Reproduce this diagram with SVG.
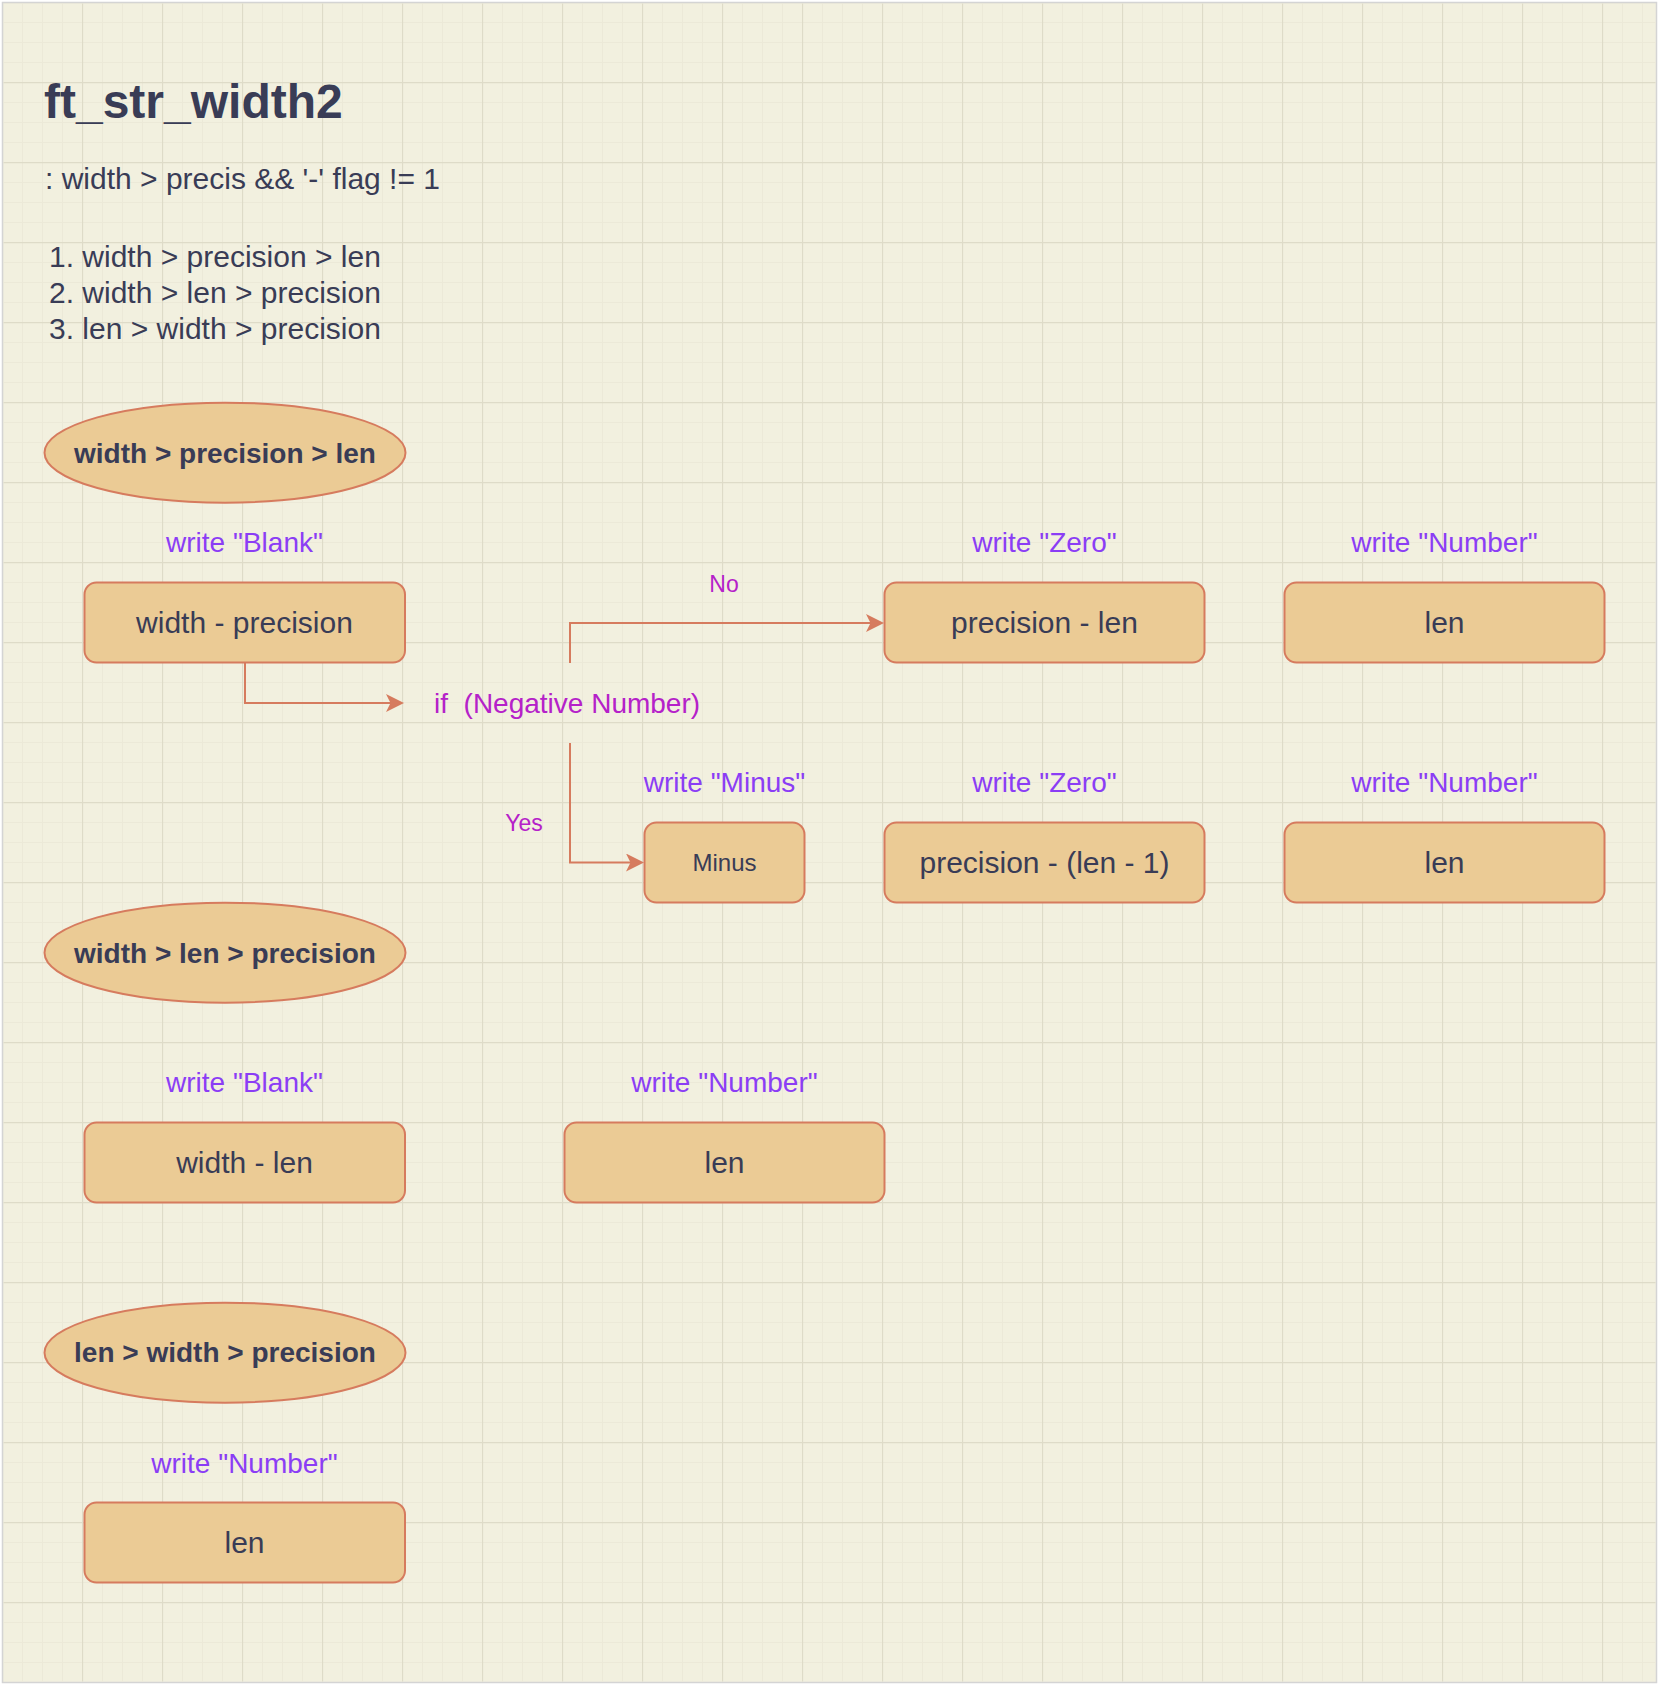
<svg xmlns="http://www.w3.org/2000/svg" width="1660" height="1684" viewBox="0 0 1660 1684">
  <defs>
    <pattern id="grid" x="2" y="2" width="80" height="80" patternUnits="userSpaceOnUse">
      <path d="M20.5 0V80M40.5 0V80M60.5 0V80M0 20.5H80M0 40.5H80M0 60.5H80" stroke="#ECE9D8" stroke-width="1" fill="none"/>
      <path d="M0.5 0V80M0 0.5H80" stroke="#DEDBC8" stroke-width="1.3" fill="none"/>
    </pattern>
    <marker id="arr" markerUnits="userSpaceOnUse" viewBox="0 0 18 18" markerWidth="18" markerHeight="18" refX="14" refY="9" orient="auto">
      <path d="M0,0 L18,9 L0,18 L4.5,9 Z" fill="#D67B5E"/>
    </marker>
    <style>
      text { font-family: "Liberation Sans", Arial, Helvetica, sans-serif; }
      .box { fill: #EBCB95; stroke: #D67B5E; stroke-width: 2; }
      .box-t { font-size: 30px; fill: #393C56; text-anchor: middle; }
      .ell-t { font-size: 28px; font-weight: bold; fill: #393C56; text-anchor: middle; }
      .lbl { font-size: 28px; fill: #8B3DF5; text-anchor: middle; }
      .cond { font-size: 28px; fill: #B521C9; }
      .edge-l { font-size: 23px; fill: #B521C9; text-anchor: middle; }
      .note { font-size: 30px; fill: #393C56; }
      .conn { fill: none; stroke: #D67B5E; stroke-width: 2; marker-end: url(#arr); }
    </style>
  </defs>

  <rect x="0" y="0" width="1660" height="1684" fill="#FFFFFF"/>
  <rect x="2.5" y="2.5" width="1654" height="1680" fill="#F2F0DF" stroke="#D4D4D4" stroke-width="1.5"/>
  <rect x="3.5" y="3.5" width="1652" height="1678" fill="url(#grid)"/>

  <g id="title">
    <text x="44" y="118" style="font-size:48px;font-weight:bold;fill:#393C56">ft_str_width2</text>
  </g>
  <g id="notes">
    <text class="note" x="45" y="189">: width &gt; precis &amp;&amp; '-' flag != 1</text>
    <text class="note" x="49" y="266.5">1. width &gt; precision &gt; len</text>
    <text class="note" x="49" y="302.5">2. width &gt; len &gt; precision</text>
    <text class="note" x="49" y="338.5">3. len &gt; width &gt; precision</text>
  </g>

  <g id="connectors">
    <path class="conn" d="M245,663 V703 H400"/>
    <path class="conn" d="M570,663 V623 H880"/>
    <path class="conn" d="M570,743 V862.5 H640"/>
  </g>

  <g id="case1">
    <ellipse cx="225" cy="452.7" rx="180.5" ry="50" class="box"/>
    <text class="ell-t" x="225" y="462.5">width &gt; precision &gt; len</text>
  </g>

  <g id="blank1">
    <text class="lbl" x="244.5" y="552.3">write "Blank"</text>
    <rect class="box" x="84.5" y="582.5" width="320.5" height="80" rx="12"/>
    <text class="box-t" x="244.5" y="633">width - precision</text>
  </g>

  <g id="if-negative">
    <text class="cond" x="434" y="712.7" xml:space="preserve">if  (Negative Number)</text>
  </g>
  <g id="label-no"><text class="edge-l" x="724" y="591.7">No</text></g>
  <g id="label-yes"><text class="edge-l" x="524" y="830.7">Yes</text></g>

  <g id="zero1">
    <text class="lbl" x="1044.5" y="552.3">write "Zero"</text>
    <rect class="box" x="884.5" y="582.5" width="320" height="80" rx="12"/>
    <text class="box-t" x="1044.5" y="633">precision - len</text>
  </g>
  <g id="number1">
    <text class="lbl" x="1444.5" y="552.3">write "Number"</text>
    <rect class="box" x="1284.5" y="582.5" width="320" height="80" rx="12"/>
    <text class="box-t" x="1444.5" y="633">len</text>
  </g>

  <g id="minus">
    <text class="lbl" x="724.5" y="791.7">write "Minus"</text>
    <rect class="box" x="644.5" y="822.5" width="160" height="80" rx="12"/>
    <text x="724.5" y="871" style="font-size:24px;fill:#393C56;text-anchor:middle">Minus</text>
  </g>
  <g id="zero2">
    <text class="lbl" x="1044.5" y="791.7">write "Zero"</text>
    <rect class="box" x="884.5" y="822.5" width="320" height="80" rx="12"/>
    <text class="box-t" x="1044.5" y="873">precision - (len - 1)</text>
  </g>
  <g id="number2">
    <text class="lbl" x="1444.5" y="791.7">write "Number"</text>
    <rect class="box" x="1284.5" y="822.5" width="320" height="80" rx="12"/>
    <text class="box-t" x="1444.5" y="873">len</text>
  </g>

  <g id="case2">
    <ellipse cx="225" cy="952.7" rx="180.5" ry="50" class="box"/>
    <text class="ell-t" x="225" y="962.5">width &gt; len &gt; precision</text>
  </g>
  <g id="blank2">
    <text class="lbl" x="244.5" y="1091.7">write "Blank"</text>
    <rect class="box" x="84.5" y="1122.5" width="320.5" height="80" rx="12"/>
    <text class="box-t" x="244.5" y="1173">width - len</text>
  </g>
  <g id="number3">
    <text class="lbl" x="724.5" y="1091.7">write "Number"</text>
    <rect class="box" x="564.5" y="1122.5" width="320" height="80" rx="12"/>
    <text class="box-t" x="724.5" y="1173">len</text>
  </g>

  <g id="case3">
    <ellipse cx="225" cy="1352.7" rx="180.5" ry="50" class="box"/>
    <text class="ell-t" x="225" y="1362">len &gt; width &gt; precision</text>
  </g>
  <g id="number4">
    <text class="lbl" x="244.5" y="1472.7">write "Number"</text>
    <rect class="box" x="84.5" y="1502.5" width="320.5" height="80" rx="12"/>
    <text class="box-t" x="244.5" y="1553">len</text>
  </g>
</svg>
